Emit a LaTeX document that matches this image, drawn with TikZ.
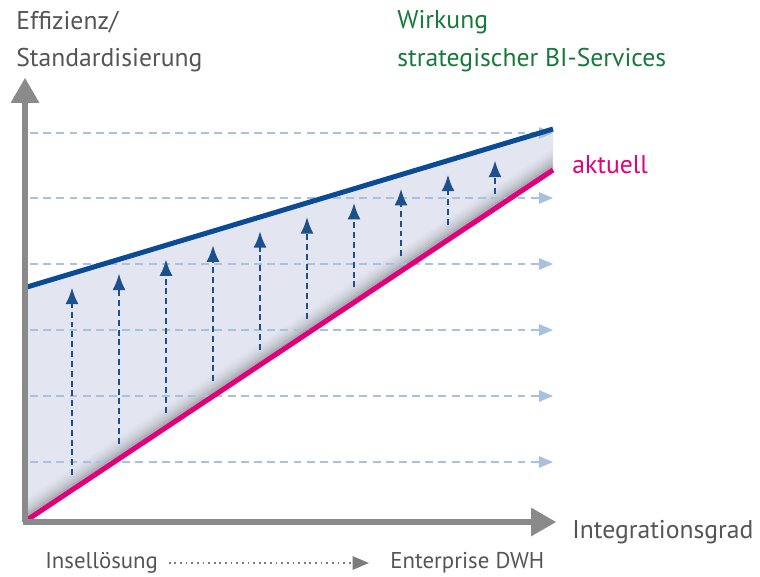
\documentclass[tikz,border=0pt]{standalone}
\usepackage{fontspec}
\setmainfont{PT Sans}
\usetikzlibrary{arrows,arrows.meta}
\usetikzlibrary{positioning,calc}
\definecolor{achse}{HTML}{8A8A8A}
\definecolor{zielblau}{HTML}{0B4A94}
\definecolor{pfeilblau}{HTML}{1D4F8C}
\definecolor{aktuellrot}{HTML}{E2007A}
\definecolor{gitter}{HTML}{A9C1DC}
\definecolor{flaeche}{HTML}{E3E6F1}
\definecolor{textgrau}{HTML}{555555}
\definecolor{wirkgruen}{HTML}{177A3C}

\begin{document}
\begin{tikzpicture}[x=0.02cm,y=-0.02cm,font=\fontsize{14.6}{16}\selectfont,
  axis/.style={draw=achse,line width=1.05mm,-triangle 60},
  grid/.style={draw=gitter,dash pattern=on 4.5pt off 3pt,line width=0.3mm,-triangle 45},
  hebung/.style={draw=pfeilblau,dash pattern=on 3.4pt off 2.2pt,line width=0.5mm,-{Latex[length=9.5pt,width=7.5pt]}},
  label/.style={inner sep=0pt,anchor=west,text=textgrau},
  unten/.style={label,font=\fontsize{13}{15}\selectfont}]

  \useasboundingbox (0,0) rectangle (760,576);

  \coordinate (ursprung) at (25,522);
  \coordinate (ytop) at (25,78);
  \coordinate (xend) at (556,522);
  \coordinate (ziel0) at (27,287);
  \coordinate (ziel1) at (553,129);
  \coordinate (ist0) at (27,520);
  \coordinate (ist1) at (553,170);

  % flaeche zwischen den linien
  \fill[flaeche] (ziel0) -- (ziel1) -- (ist1) -- (ist0) -- cycle;
  \begin{scope}
    \clip (ziel0) -- (ziel1) -- (ist1) -- (ist0) -- cycle;
    \foreach \d/\o in {2/0.34,4/0.28,6/0.22,8/0.17,10/0.13,12/0.10,14/0.07,16/0.05,18/0.03,20/0.02}
      \draw[black!60,line width=0.06cm,opacity=\o] ($(ist0)+(0,-\d)$) -- ($(ist1)+(0,-\d)$);
  \end{scope}

  % gitterlinien
  \foreach \y in {133,198,264,330,396,462}{
    \coordinate (g\y) at (30,\y);
    \coordinate (h\y) at (553,\y);
    \draw[grid] (g\y) -- (h\y);
  }

  % pfeile
  \foreach \x in {72,119,166,213,260,307,354,401,448,495}{
    \coordinate (u\x) at (\x,{520-(\x-27)/526*350-15});
    \coordinate (o\x) at (\x,{287-(\x-27)/526*158+14});
    \draw[hebung] (u\x) -- (o\x);
  }

  \draw[zielblau,line width=1mm] (ziel0) -- (ziel1);
  \draw[aktuellrot,line width=1mm] (ist0) -- (ist1);

  % achsen
  \draw[axis] (ursprung) -- (ytop);
  \draw[axis] ($(ursprung)+(-2,0)$) -- (xend);

  % texte
  \node[label] (eff) at (16,22) {Effizienz/};
  \node[label,below=0.76cm of eff.west,anchor=west] (std) {Standardisierung};
  \node[label,text=wirkgruen] (wirk) at (397,22) {Wirkung};
  \node[label,text=wirkgruen,below=0.76cm of wirk.west,anchor=west] (bis) {strategischer BI-Services};
  \node[label,text=aktuellrot] (akt) at (572,165) {aktuell};
  \node[label] (grad) at (572,532) {Integrationsgrad};
  \node[unten] (insel) at (45,563) {Insellösung};
  \node[unten] (dwh) at (390,563) {Enterprise DWH};
  \draw[draw=achse!90!black,dash pattern=on 1pt off 2.2pt,line width=0.4mm,-triangle 45,shorten <=6pt,shorten >=12pt] (insel) -- (dwh);

\end{tikzpicture}
\end{document}
